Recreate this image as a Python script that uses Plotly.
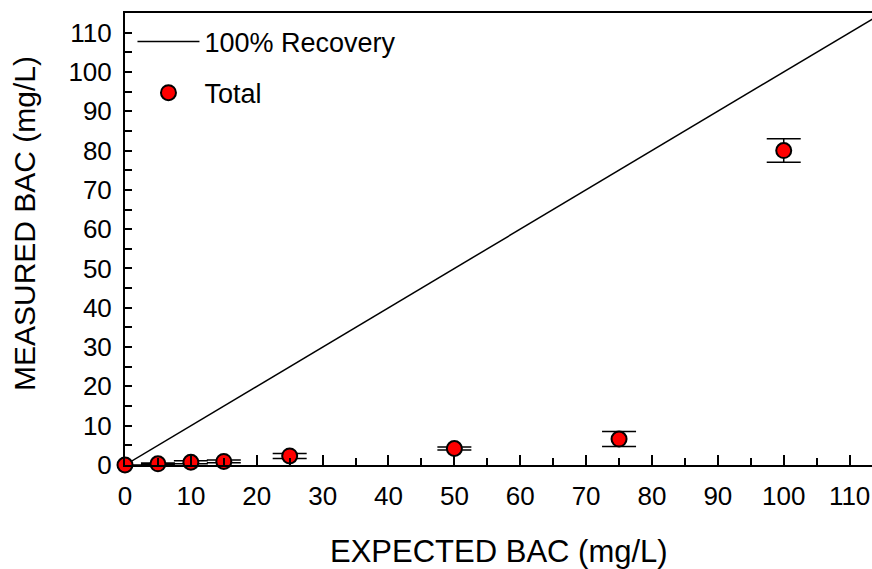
import plotly.graph_objects as go

# data
expected = [0, 5, 10, 15, 25, 50, 75, 100]
measured = [0, 0.3, 0.7, 0.9, 2.3, 4.2, 6.6, 80]
measured_err = [0, 0.2, 0.4, 0.35, 0.65, 0.4, 1.9, 3.0]
recovery_x = [0, 115]
recovery_y = [0, 115]
x_ticks = [0, 10, 20, 30, 40, 50, 60, 70, 80, 90, 100, 110]
y_ticks = [0, 10, 20, 30, 40, 50, 60, 70, 80, 90, 100, 110]

FONT = "Liberation Sans, Arial, sans-serif"

fig = go.Figure()
fig.add_trace(go.Scatter(
    x=recovery_x, y=recovery_y, mode="lines", name="100% Recovery",
    line=dict(color="black", width=1.5), legendgroup="a",
))
fig.add_trace(go.Scatter(
    x=expected, y=measured, mode="markers", name="Total",
    marker=dict(color="#ff0000", size=15, line=dict(color="black", width=2)),
    error_y=dict(type="data", array=measured_err, visible=True,
                 color="black", thickness=1.5, width=17),
    legendgroup="b", cliponaxis=False,
))

fig.update_layout(
    width=872, height=569,
    margin=dict(l=124.5, r=0, t=12.5, b=103.5),
    plot_bgcolor="white", paper_bgcolor="white",
    font=dict(family=FONT, size=27, color="black"),
    showlegend=True,
    legend=dict(x=0.01, y=0.99, xanchor="left", yanchor="top",
                bgcolor="rgba(0,0,0,0)", font=dict(size=27),
                itemwidth=62, traceorder="grouped", tracegroupgap=13),
    xaxis=dict(range=[0, 113.4], showgrid=False, zeroline=False,
               showline=True, linecolor="black", linewidth=2, mirror=True,
               ticks="inside", ticklen=10, tickwidth=1.5, tickcolor="black",
               tickvals=x_ticks, ticklabelstandoff=7,
               tickfont=dict(size=26),
               minor=dict(dtick=5, ticks="inside", ticklen=7, tickwidth=1.5,
                          tickcolor="black", showgrid=False)),
    yaxis=dict(range=[0, 115], showgrid=False, zeroline=False,
               showline=True, linecolor="black", linewidth=2,
               ticks="inside", ticklen=7, tickwidth=1.5, tickcolor="black",
               tickvals=y_ticks, ticklabelstandoff=6,
               tickfont=dict(size=26),
               minor=dict(dtick=5, ticks="inside", ticklen=7, tickwidth=1.5,
                          tickcolor="black", showgrid=False)),
    annotations=[
        dict(text="EXPECTED BAC (mg/L)", xref="paper", yref="paper",
             x=0.5, y=-0.192, xanchor="center", yanchor="middle",
             showarrow=False, font=dict(size=31)),
        dict(text="MEASURED BAC (mg/L)", xref="paper", yref="paper",
             x=-0.1354, y=0.535, xanchor="center", yanchor="middle",
             textangle=-90, showarrow=False, font=dict(size=30)),
    ],
)

fig.write_html("out.html")
